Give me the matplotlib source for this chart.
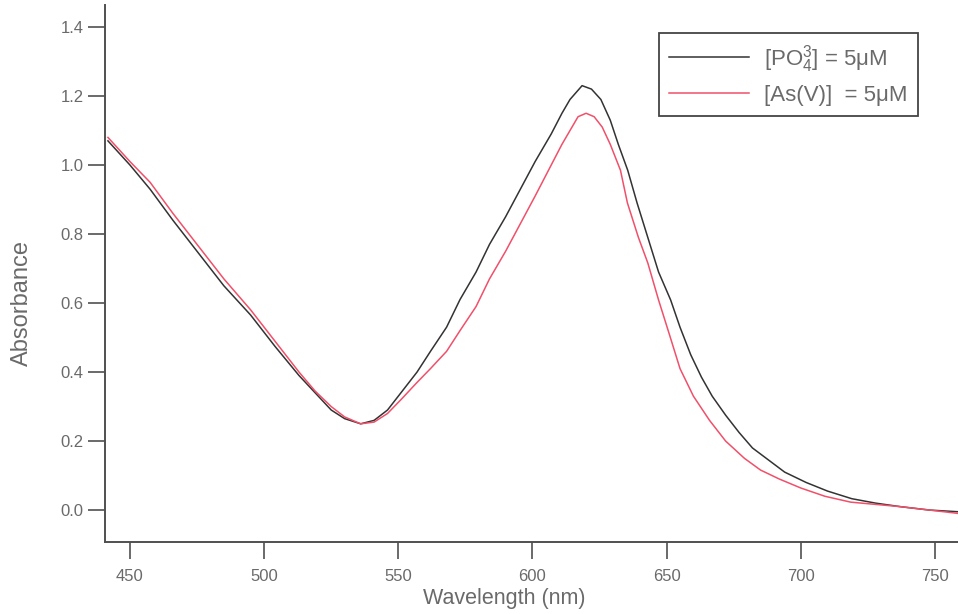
import matplotlib
matplotlib.use("Agg")
import matplotlib.pyplot as plt

plt.rcParams.update({
    "font.family": ["Liberation Sans", "DejaVu Sans"],
    "mathtext.fontset": "custom", "mathtext.rm": "Liberation Sans",
    "mathtext.it": "Liberation Sans", "mathtext.default": "regular",
})

wl_po4 = [441.8, 450, 457.5, 466, 476, 485, 495, 504, 513, 519, 525, 530, 536,
          541, 546, 551, 557, 562, 568, 573, 579, 584, 590, 595.5, 601, 607,
          611, 614, 618.5, 622, 625.5, 629, 632, 635.5, 639, 643, 647, 651.5,
          655, 659, 663, 667, 672, 677, 682, 688, 694, 702, 710, 719, 728,
          737, 748, 759]
abs_po4 = [1.07, 1.00, 0.93, 0.84, 0.74, 0.65, 0.565, 0.475, 0.39, 0.34, 0.29,
           0.265, 0.25, 0.26, 0.29, 0.34, 0.40, 0.46, 0.53, 0.61, 0.69, 0.77,
           0.85, 0.93, 1.01, 1.09, 1.15, 1.19, 1.23, 1.22, 1.19, 1.13, 1.06,
           0.985, 0.89, 0.79, 0.69, 0.609, 0.53, 0.45, 0.385, 0.33, 0.275,
           0.225, 0.18, 0.145, 0.11, 0.08, 0.055, 0.033, 0.02, 0.01, 0.0,
           -0.005]

wl_as = [441.8, 450, 457.5, 466, 476, 485, 495, 504, 513, 519, 525, 530, 536,
         541, 546, 551, 557, 562, 568, 573, 579, 584, 590, 595.5, 601, 607,
         611, 614, 617, 620, 623, 626, 629, 632.8, 635.4, 639.5, 643, 647,
         651, 655, 660, 666, 672, 679, 685, 692, 700, 709, 718.6, 737, 748,
         759]
abs_as = [1.08, 1.01, 0.95, 0.86, 0.76, 0.67, 0.58, 0.49, 0.40, 0.345, 0.30,
          0.27, 0.25, 0.255, 0.28, 0.32, 0.37, 0.41, 0.46, 0.52, 0.59, 0.67,
          0.75, 0.83, 0.91, 1.00, 1.06, 1.10, 1.14, 1.15, 1.14, 1.11, 1.06,
          0.985, 0.89, 0.79, 0.716, 0.609, 0.51, 0.41, 0.33, 0.26, 0.20, 0.15,
          0.116, 0.09, 0.064, 0.04, 0.023, 0.01, 0.0, -0.01]

xticks = [450, 500, 550, 600, 650, 700, 750]
yticks = [0.0, 0.2, 0.4, 0.6, 0.8, 1.0, 1.2, 1.4]

INK, TXT = "#505050", "#6a6a6a"

fig = plt.figure(figsize=(9.58, 6.14), dpi=100)
ax = fig.add_axes([0.1096, 0.117, 0.8904, 0.875])

ax.plot(wl_po4, abs_po4, color="#333333", lw=1.1,
        label=r"[PO$_4^{3}$] = 5μM")
ax.plot(wl_as, abs_as, color="#f0506a", lw=1.1,
        label="[As(V)]  = 5μM")

ax.set_xlim(440.7, 758.6)
ax.set_ylim(-0.093, 1.464)
ax.set_xticks(xticks)
ax.set_yticks(yticks)
ax.set_yticklabels([f"{v:.1f}" for v in yticks])

for side in ["top", "right"]:
    ax.spines[side].set_visible(False)
for side in ["left", "bottom"]:
    ax.spines[side].set_color(INK)
    ax.spines[side].set_linewidth(1.4)
ax.tick_params(axis="both", direction="out", length=12, width=1.2,
               color=INK, labelcolor=TXT, labelsize=12)
ax.tick_params(axis="x", pad=7)

ax.set_xlabel("Wavelength (nm)", fontsize=15.5, color=TXT)
ax.xaxis.set_label_coords(0.468, -0.085)
ax.set_ylabel("Absorbance", fontsize=17, color=TXT)
ax.yaxis.set_label_coords(-0.085, 0.445)

leg = ax.legend(loc="upper right", bbox_to_anchor=(0.953, 0.948),
                borderaxespad=0, fancybox=False, edgecolor="#444444",
                fontsize=16, handlelength=3.6, handletextpad=0.7,
                labelspacing=0.45, borderpad=0.45, framealpha=1)
leg.get_frame().set_linewidth(1.3)
for t in leg.get_texts():
    t.set_color(TXT)

fig.savefig("out.png", dpi=100)
